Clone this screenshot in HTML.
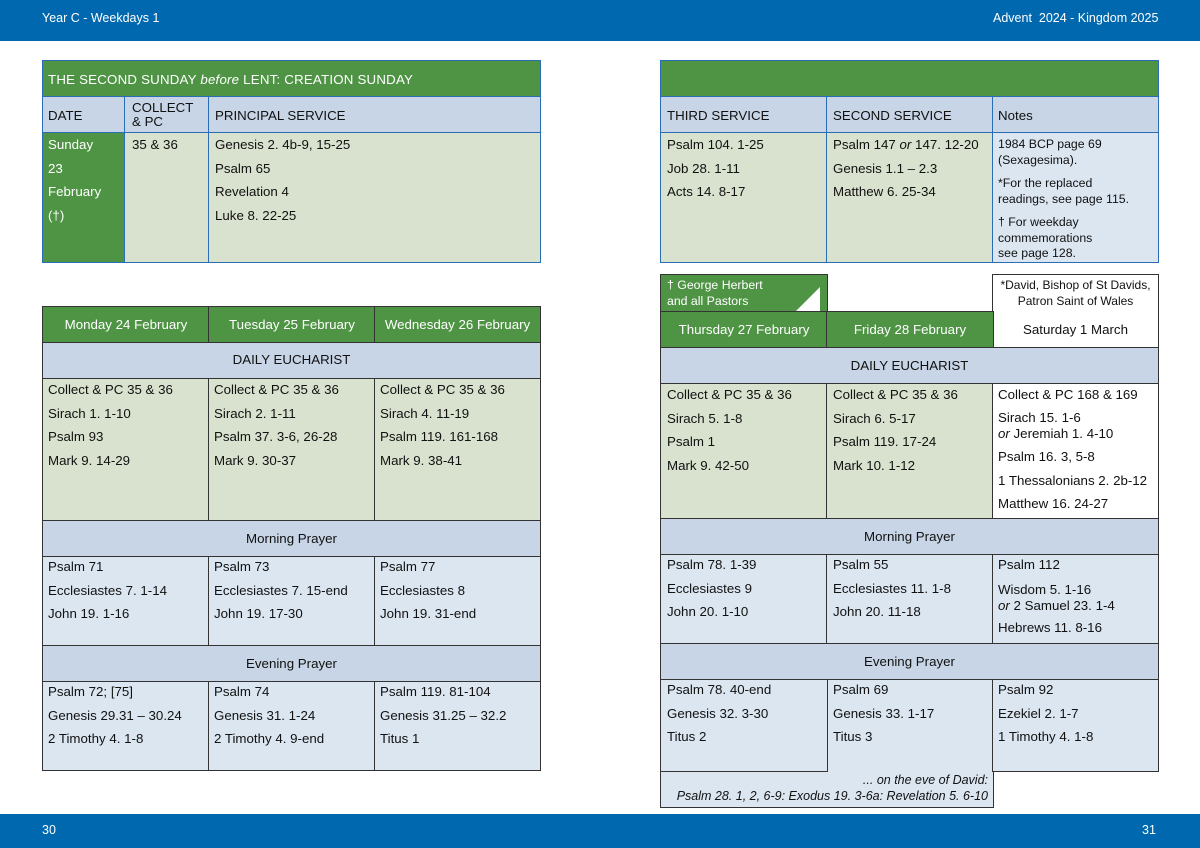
<!DOCTYPE html>
<html><head><meta charset="utf-8"><style>
*{margin:0;padding:0;box-sizing:border-box}
body{width:1200px;height:848px;position:relative;background:#fff;font-family:"Liberation Sans",Arial,sans-serif;font-size:13.3px;color:#111;overflow:hidden}
.a{position:absolute}
.bar{background:#0068ae;color:#fff}
.b{position:absolute;border:1.5px solid #333}
.bb{position:absolute;border:1.5px solid #2a6db5}
.g{background:#4e9444;color:#fff}
.lb{background:#c7d5e6}
.lg{background:#d9e2cf}
.pb{background:#dce6f1}
.t{position:absolute;line-height:23.5px;white-space:nowrap}
.c{text-align:center}
.w{color:#fff}
.s{font-size:12.3px}
</style></head><body>
<div class="a bar" style="left:0;top:0;width:1200px;height:41px"></div>
<div class="t w" style="left:42px;top:7px;font-size:12.5px">Year C - Weekdays 1</div>
<div class="t w" style="left:993px;top:7px;font-size:12.5px">Advent&nbsp; 2024 - Kingdom 2025</div>
<div class="a bar" style="left:0;top:814px;width:1200px;height:34px"></div>
<div class="t w" style="left:42px;top:819px;font-size:12.5px">30</div>
<div class="t w" style="left:1142px;top:819px;font-size:12.5px">31</div>

<!-- top left -->
<div class="bb g" style="left:42px;top:60px;width:499px;height:38px"></div>
<div class="t w" style="left:48px;top:68px;letter-spacing:.2px">THE SECOND SUNDAY <i>before</i> LENT: CREATION SUNDAY</div>
<div class="bb lb" style="left:42px;top:96px;width:84px;height:38px"></div>
<div class="bb lb" style="left:124px;top:96px;width:86px;height:38px"></div>
<div class="bb lb" style="left:208px;top:96px;width:333px;height:38px"></div>
<div class="t" style="left:48px;top:104px">DATE</div>
<div class="a" style="left:132px;top:101px;line-height:14px">COLLECT<br>&amp; PC</div>
<div class="t" style="left:215px;top:104px">PRINCIPAL SERVICE</div>
<div class="bb g" style="left:42px;top:132px;width:84px;height:131px"></div>
<div class="bb lg" style="left:124px;top:132px;width:86px;height:131px"></div>
<div class="bb lg" style="left:208px;top:132px;width:333px;height:131px"></div>
<div class="a w" style="left:48px;top:133px;line-height:23.5px">Sunday<br>23<br>February<br>(†)</div>
<div class="t" style="left:132px;top:133px">35 &amp; 36</div>
<div class="a" style="left:215px;top:133px;line-height:23.5px">Genesis 2. 4b-9, 15-25<br>Psalm 65<br>Revelation 4<br>Luke 8. 22-25</div>

<!-- top right -->
<div class="bb g" style="left:660px;top:60px;width:499px;height:38px"></div>
<div class="bb lb" style="left:660px;top:96px;width:168px;height:38px"></div>
<div class="bb lb" style="left:826px;top:96px;width:168px;height:38px"></div>
<div class="bb lb" style="left:992px;top:96px;width:167px;height:38px"></div>
<div class="t" style="left:667px;top:104px">THIRD SERVICE</div>
<div class="t" style="left:833px;top:104px">SECOND SERVICE</div>
<div class="t" style="left:998px;top:104px">Notes</div>
<div class="bb lg" style="left:660px;top:132px;width:168px;height:131px"></div>
<div class="bb lg" style="left:826px;top:132px;width:168px;height:131px"></div>
<div class="bb pb" style="left:992px;top:132px;width:167px;height:131px"></div>
<div class="a" style="left:667px;top:133px;line-height:23.5px">Psalm 104. 1-25<br>Job 28. 1-11<br>Acts 14. 8-17</div>
<div class="a" style="left:833px;top:133px;line-height:23.5px">Psalm 147 <i>or</i> 147. 12-20<br>Genesis 1.1 – 2.3<br>Matthew 6. 25-34</div>
<div class="a s" style="left:998px;top:137px;line-height:15.5px">1984 BCP page 69<br>(Sexagesima).</div>
<div class="a s" style="left:998px;top:176px;line-height:15.5px">*For the replaced<br>readings, see page 115.</div>
<div class="a s" style="left:998px;top:215px;line-height:15.5px">† For weekday<br>commemorations<br>see page 128.</div>

<!-- bottom left -->
<div class="b g" style="left:42px;top:306px;width:168px;height:38px"></div>
<div class="b g" style="left:208px;top:306px;width:168px;height:38px"></div>
<div class="b g" style="left:374px;top:306px;width:167px;height:38px"></div>
<div class="t w c" style="left:42px;top:313px;width:168px">Monday 24 February</div>
<div class="t w c" style="left:208px;top:313px;width:168px">Tuesday 25 February</div>
<div class="t w c" style="left:374px;top:313px;width:167px">Wednesday 26 February</div>
<div class="b lb" style="left:42px;top:342px;width:499px;height:38px"></div>
<div class="t c" style="left:42px;top:348px;width:499px">DAILY EUCHARIST</div>
<div class="b lg" style="left:42px;top:378px;width:168px;height:144px"></div>
<div class="b lg" style="left:208px;top:378px;width:168px;height:144px"></div>
<div class="b lg" style="left:374px;top:378px;width:167px;height:144px"></div>
<div class="a" style="left:48px;top:378px;line-height:23.5px">Collect &amp; PC 35 &amp; 36<br>Sirach 1. 1-10<br>Psalm 93<br>Mark 9. 14-29</div>
<div class="a" style="left:214px;top:378px;line-height:23.5px">Collect &amp; PC 35 &amp; 36<br>Sirach 2. 1-11<br>Psalm 37. 3-6, 26-28<br>Mark 9. 30-37</div>
<div class="a" style="left:380px;top:378px;line-height:23.5px">Collect &amp; PC 35 &amp; 36<br>Sirach 4. 11-19<br>Psalm 119. 161-168<br>Mark 9. 38-41</div>
<div class="b lb" style="left:42px;top:520px;width:499px;height:38px"></div>
<div class="t c" style="left:42px;top:527px;width:499px">Morning Prayer</div>
<div class="b pb" style="left:42px;top:556px;width:168px;height:91px"></div>
<div class="b pb" style="left:208px;top:556px;width:168px;height:91px"></div>
<div class="b pb" style="left:374px;top:556px;width:167px;height:91px"></div>
<div class="a" style="left:48px;top:555px;line-height:23.5px">Psalm 71<br>Ecclesiastes 7. 1-14<br>John 19. 1-16</div>
<div class="a" style="left:214px;top:555px;line-height:23.5px">Psalm 73<br>Ecclesiastes 7. 15-end<br>John 19. 17-30</div>
<div class="a" style="left:380px;top:555px;line-height:23.5px">Psalm 77<br>Ecclesiastes 8<br>John 19. 31-end</div>
<div class="b lb" style="left:42px;top:645px;width:499px;height:38px"></div>
<div class="t c" style="left:42px;top:652px;width:499px">Evening Prayer</div>
<div class="b pb" style="left:42px;top:681px;width:168px;height:90px"></div>
<div class="b pb" style="left:208px;top:681px;width:168px;height:90px"></div>
<div class="b pb" style="left:374px;top:681px;width:167px;height:90px"></div>
<div class="a" style="left:48px;top:680px;line-height:23.5px">Psalm 72; [75]<br>Genesis 29.31 – 30.24<br>2 Timothy 4. 1-8</div>
<div class="a" style="left:214px;top:680px;line-height:23.5px">Psalm 74<br>Genesis 31. 1-24<br>2 Timothy 4. 9-end</div>
<div class="a" style="left:380px;top:680px;line-height:23.5px">Psalm 119. 81-104<br>Genesis 31.25 – 32.2<br>Titus 1</div>

<!-- bottom right -->
<div class="b g" style="left:660px;top:274px;width:168px;height:39px"></div>
<div class="a w s" style="left:667px;top:278px;line-height:15.5px">† George Herbert<br>and all Pastors</div>
<svg class="a" style="left:796px;top:287px" width="26" height="24"><polygon points="24,0 24,24 0,24" fill="#fff"/></svg>
<div class="b" style="left:992px;top:274px;width:167px;height:75px;background:#fff"></div>
<div class="a c" style="left:992px;top:278px;width:167px;line-height:15.5px;font-size:12px">*David, Bishop of St Davids,<br>Patron Saint of Wales</div>
<div class="b g" style="left:660px;top:311px;width:168px;height:38px"></div>
<div class="b g" style="left:826px;top:311px;width:168px;height:38px"></div>
<div class="t w c" style="left:660px;top:318px;width:168px">Thursday 27 February</div>
<div class="t w c" style="left:826px;top:318px;width:168px">Friday 28 February</div>
<div class="t c" style="left:992px;top:318px;width:167px">Saturday 1 March</div>
<div class="b lb" style="left:660px;top:347px;width:499px;height:38px"></div>
<div class="t c" style="left:660px;top:354px;width:499px">DAILY EUCHARIST</div>
<div class="b lg" style="left:660px;top:383px;width:168px;height:137px"></div>
<div class="b lg" style="left:826px;top:383px;width:168px;height:137px"></div>
<div class="b" style="left:992px;top:383px;width:167px;height:137px;background:#fff"></div>
<div class="a" style="left:667px;top:383px;line-height:23.5px">Collect &amp; PC 35 &amp; 36<br>Sirach 5. 1-8<br>Psalm 1<br>Mark 9. 42-50</div>
<div class="a" style="left:833px;top:383px;line-height:23.5px">Collect &amp; PC 35 &amp; 36<br>Sirach 6. 5-17<br>Psalm 119. 17-24<br>Mark 10. 1-12</div>
<div class="t" style="left:998px;top:383px">Collect &amp; PC 168 &amp; 169</div>
<div class="a" style="left:998px;top:410px;line-height:16px">Sirach 15. 1-6<br><i>or</i> Jeremiah 1. 4-10</div>
<div class="a" style="left:998px;top:445px;line-height:23.5px">Psalm 16. 3, 5-8<br>1 Thessalonians 2. 2b-12<br>Matthew 16. 24-27</div>
<div class="b lb" style="left:660px;top:518px;width:499px;height:38px"></div>
<div class="t c" style="left:660px;top:525px;width:499px">Morning Prayer</div>
<div class="b pb" style="left:660px;top:554px;width:168px;height:91px"></div>
<div class="b pb" style="left:826px;top:554px;width:168px;height:91px"></div>
<div class="b pb" style="left:992px;top:554px;width:167px;height:91px"></div>
<div class="a" style="left:667px;top:553px;line-height:23.5px">Psalm 78. 1-39<br>Ecclesiastes 9<br>John 20. 1-10</div>
<div class="a" style="left:833px;top:553px;line-height:23.5px">Psalm 55<br>Ecclesiastes 11. 1-8<br>John 20. 11-18</div>
<div class="t" style="left:998px;top:553px">Psalm 112</div>
<div class="a" style="left:998px;top:582px;line-height:16px">Wisdom 5. 1-16<br><i>or</i> 2 Samuel 23. 1-4</div>
<div class="t" style="left:998px;top:616px">Hebrews 11. 8-16</div>
<div class="b lb" style="left:660px;top:643px;width:499px;height:38px"></div>
<div class="t c" style="left:660px;top:650px;width:499px">Evening Prayer</div>
<div class="b pb" style="left:660px;top:771px;width:334px;height:37px;border-top:none"></div>
<div class="b pb" style="left:826px;top:679px;width:168px;height:93px;border-bottom:none"></div>
<div class="b pb" style="left:660px;top:679px;width:168px;height:93px"></div>
<div class="b pb" style="left:992px;top:679px;width:167px;height:93px"></div>
<div class="a" style="left:667px;top:678px;line-height:23.5px">Psalm 78. 40-end<br>Genesis 32. 3-30<br>Titus 2</div>
<div class="a" style="left:833px;top:678px;line-height:23.5px">Psalm 69<br>Genesis 33. 1-17<br>Titus 3</div>
<div class="a" style="left:998px;top:678px;line-height:23.5px">Psalm 92<br>Ezekiel 2. 1-7<br>1 Timothy 4. 1-8</div>
<div class="a" style="left:660px;top:773px;width:328px;text-align:right;line-height:15.5px;font-style:italic;font-size:12.5px">... on the eve of David:<br>Psalm 28. 1, 2, 6-9: Exodus 19. 3-6a: Revelation 5. 6-10</div>
</body></html>
